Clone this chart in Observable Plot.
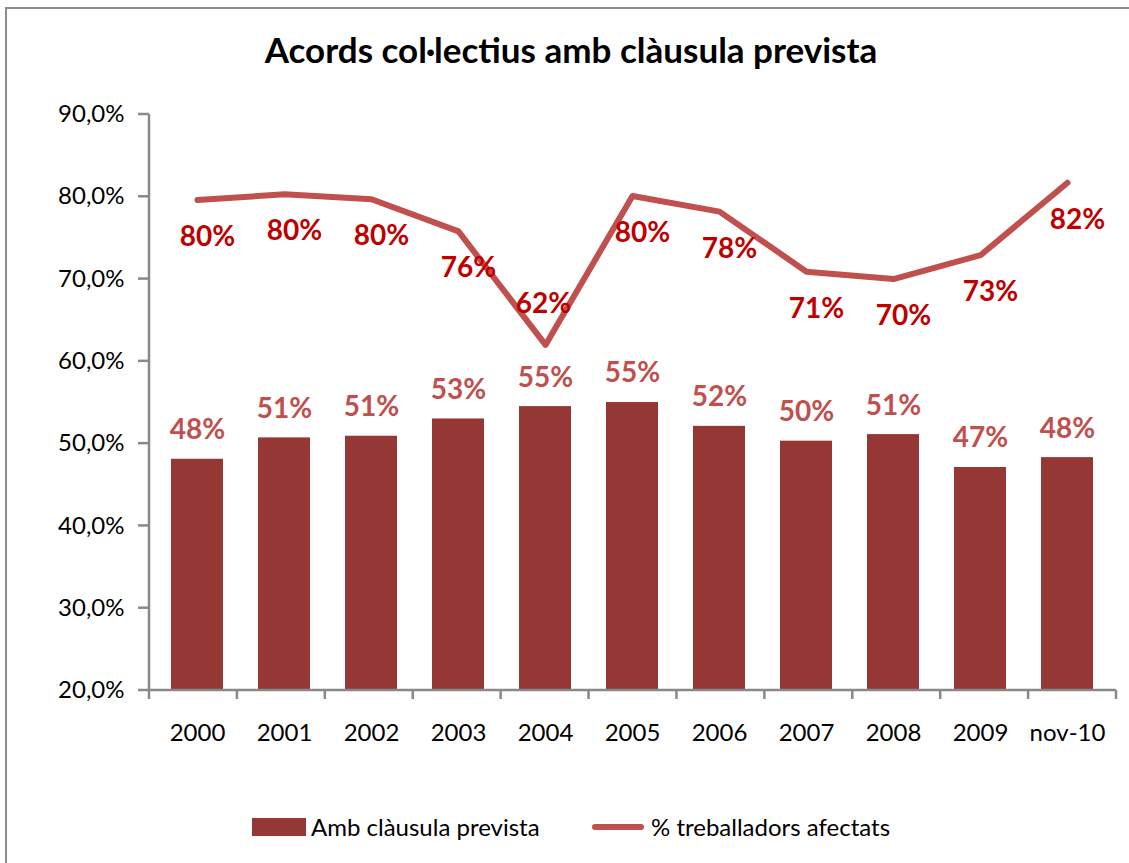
<!DOCTYPE html>
<html>
<head>
<meta charset="utf-8">
<script src="https://cdn.jsdelivr.net/npm/d3@7"></script>
<script src="https://cdn.jsdelivr.net/npm/@observablehq/plot@0.6"></script>
<style>
  html, body { margin: 0; padding: 0; background: #fff; overflow: hidden; }
  body { width: 1129px; height: 863px; position: relative; font-family: Lato, "Open Sans", sans-serif; }
  #frameL { position: absolute; left: 5px; top: 7px; width: 2px; height: 856px; background: #8c8c8c; }
  #frameT { position: absolute; left: 5px; top: 7px; width: 1124px; height: 2px; background: #8c8c8c; }
  #title { position: absolute; left: 5px; width: 1132px; top: 34px; text-align: center; font-weight: bold; font-size: 35px; line-height: 30px; color: #000; }
  #chart { position: absolute; left: 0; top: 80px; }
  .leg { position: absolute; font-size: 24px; line-height: 24px; color: #000; white-space: nowrap; }
</style>
</head>
<body>
<div id="frameL"></div>
<div id="frameT"></div>
<div id="title"></div>
<div id="chart"></div>
<div id="legend"></div>
<script>
const titleText = "Acords col·lectius amb clàusula prevista";
const categories = ["2000", "2001", "2002", "2003", "2004", "2005", "2006", "2007", "2008", "2009", "nov-10"];
const barValues = [48.1, 50.7, 50.9, 53.0, 54.5, 55.0, 52.1, 50.3, 51.1, 47.1, 48.3];
const lineValues = [79.6, 80.3, 79.7, 75.8, 62.0, 80.1, 78.2, 70.9, 70.0, 72.9, 81.7];
const yTicks = [20, 30, 40, 50, 60, 70, 80, 90];
const seriesNames = ["Amb clàusula prevista", "% treballadors afectats"];

const barColor = "#953735";
const lineColor = "#C0504D";
const lineLabelColor = "#C00000";
const barLabelColor = "#C0504D";
const axisColor = "#898989";

document.getElementById("title").textContent = titleText;

const bars = categories.map((c, i) => ({cat: c, value: barValues[i]}));
const lineMin = d3.min(lineValues);
const pts = categories.map((c, i) => ({cat: c, value: lineValues[i], isMin: lineValues[i] === lineMin}));

const W = 1129, H = 700;
const mL = 149, mR = 13, mT = 34, mB = 90;
const yMin = yTicks[0], yMax = yTicks[yTicks.length - 1];

function axes(index, scales, values, dims) {
  const g = d3.create("svg:g");
  const n = categories.length;
  const step = (dims.width - dims.marginLeft - dims.marginRight) / n;
  const x0 = dims.marginLeft;
  const yb = scales.y(yMin);
  const yt = scales.y(yMax);
  g.append("line").attr("x1", x0).attr("x2", x0).attr("y1", yt).attr("y2", yb + 1.25)
    .attr("stroke", axisColor).attr("stroke-width", 2.5);
  for (const t of yTicks) {
    const y = scales.y(t);
    g.append("line").attr("x1", x0 - 11).attr("x2", x0).attr("y1", y).attr("y2", y)
      .attr("stroke", axisColor).attr("stroke-width", 2.5);
  }
  g.append("line").attr("x1", x0).attr("x2", dims.width - dims.marginRight).attr("y1", yb).attr("y2", yb)
    .attr("stroke", axisColor).attr("stroke-width", 2.5);
  for (let i = 0; i <= n; i++) {
    const x = x0 + i * step;
    g.append("line").attr("x1", x).attr("x2", x).attr("y1", yb).attr("y2", yb + 9)
      .attr("stroke", axisColor).attr("stroke-width", 2.5);
  }
  return g.node();
}

const chart = Plot.plot({
  width: W,
  height: H,
  marginLeft: mL,
  marginRight: mR,
  marginTop: mT,
  marginBottom: mB,
  style: {fontFamily: "Lato, 'Open Sans', sans-serif", fontSize: "24px", color: "#000", background: "transparent"},
  x: {domain: categories, paddingInner: 0.4, paddingOuter: 0.2, tickSize: 0, tickPadding: 33, label: null},
  y: {domain: [yMin, yMax], ticks: yTicks, tickSize: 0, tickPadding: 25, label: null,
      tickFormat: d => d.toFixed(1).replace(".", ",") + "%"},
  marks: [
    Plot.barY(bars, {x: "cat", y1: () => yMin, y2: "value", fill: barColor}),
    axes,
    Plot.line(pts, {x: "cat", y: "value", stroke: lineColor, strokeWidth: 6, strokeLinejoin: "round", strokeLinecap: "round"}),
    Plot.text(bars, {x: "cat", y: "value", text: d => Math.round(d.value) + "%", dy: -29, fill: barLabelColor, fontWeight: "bold", fontSize: 28}),
    Plot.text(pts.filter(d => !d.isMin), {x: "cat", y: "value", text: d => Math.round(d.value) + "%", dy: 37, dx: 10, fill: lineLabelColor, fontWeight: "bold", fontSize: 28}),
    Plot.text(pts.filter(d => d.isMin), {x: "cat", y: "value", text: d => Math.round(d.value) + "%", dy: -41, dx: -2, fill: lineLabelColor, fontWeight: "bold", fontSize: 28})
  ]
});
document.getElementById("chart").appendChild(chart);

const legend = document.getElementById("legend");
legend.innerHTML = `
  <div style="position:absolute;left:252px;top:818px;width:54px;height:18px;background:${barColor}"></div>
  <div class="leg" style="left:311px;top:815px">${seriesNames[0]}</div>
  <div style="position:absolute;left:592px;top:824px;width:52px;height:6px;border-radius:3px;background:${lineColor}"></div>
  <div class="leg" style="left:651px;top:815px">${seriesNames[1]}</div>
`;
</script>
</body>
</html>
